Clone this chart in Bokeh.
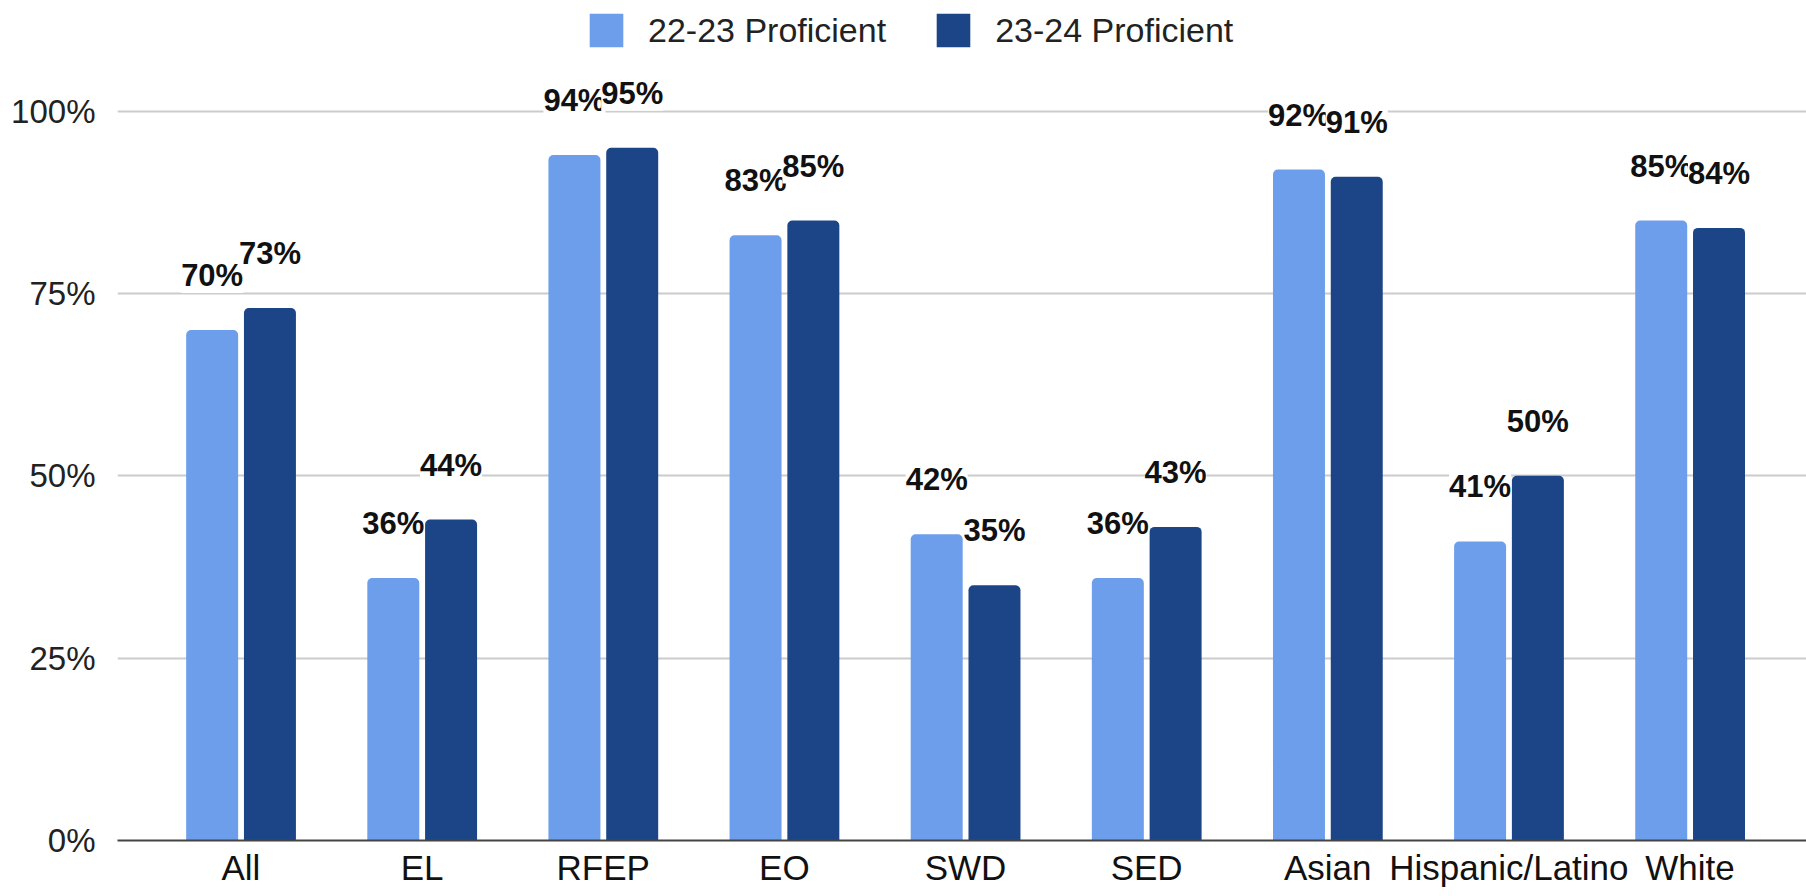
from bokeh.plotting import figure
from bokeh.models import (ColumnDataSource, Range1d, FixedTicker, LabelSet, Legend,
                          LegendItem, PrintfTickFormatter)
from bokeh.core.properties import value
from bokeh.transform import dodge
from bokeh.embed import file_html
from bokeh.resources import INLINE

categories = ["All", "EL", "RFEP", "EO", "SWD", "SED", "Asian", "Hispanic/Latino", "White"]
series_names = ["22-23 Proficient", "23-24 Proficient"]
prof_2223 = [70, 36, 94, 83, 42, 36, 92, 41, 85]
prof_2324 = [73, 44, 95, 85, 35, 43, 91, 50, 84]
y_ticks = [0, 25, 50, 75, 100]

LIGHT = "#6d9eeb"
DARK = "#1c4587"

idx = list(range(len(categories)))
src = ColumnDataSource(dict(
    x=idx,
    cat=categories,
    a=prof_2223,
    b=prof_2324,
    a_lab=[f"{v}%" for v in prof_2223],
    b_lab=[f"{v}%" for v in prof_2324],
))

p = figure(width=1806, height=896,
           x_range=Range1d(-0.6816, 8.643), y_range=Range1d(0, 115.18),
           output_backend="svg", toolbar_location=None,
           min_border_left=117, min_border_right=0,
           min_border_top=0, min_border_bottom=56)
p.outline_line_color = None
p.background_fill_color = "white"
p.border_fill_color = "white"

ra = p.vbar(x=dodge("x", -0.159), top="a", width=0.287, source=src,
            fill_color=LIGHT, line_color=None, border_radius=(5, 5, 0, 0))
rb = p.vbar(x=dodge("x", 0.16), top="b", width=0.287, source=src,
            fill_color=DARK, line_color=None, border_radius=(5, 5, 0, 0))

for col, lab, off in (("a", "a_lab", -0.159), ("b", "b_lab", 0.16)):
    ls = LabelSet(x=dodge("x", off), y=col, text=lab, source=src,
                  text_align="center", text_baseline="alphabetic", y_offset=44,
                  text_font=value("Liberation Sans"), text_font_style="bold",
                  text_font_size="31px", text_color="#111111",
                  background_fill_color="white")
    p.add_layout(ls)

# axes
p.xaxis.ticker = FixedTicker(ticks=idx)
p.xaxis.major_label_overrides = {i: c for i, c in zip(idx, categories)}
p.xaxis.major_label_text_font = "Liberation Sans"
p.xaxis.major_label_text_font_size = "35px"
p.xaxis.major_label_text_color = "#111111"
p.xaxis.major_label_standoff = 7
p.xaxis.major_tick_line_color = None
p.xaxis.major_tick_out = 0
p.xaxis.minor_tick_line_color = None
p.xaxis.axis_line_color = "#444444"
p.xaxis.axis_line_width = 2

p.yaxis.ticker = FixedTicker(ticks=y_ticks)
p.yaxis.formatter = PrintfTickFormatter(format="%d%%")
p.yaxis.major_label_text_font = "Liberation Sans"
p.yaxis.major_label_text_font_size = "33px"
p.yaxis.major_label_text_color = "#222222"
p.yaxis.major_label_standoff = 16
p.yaxis.axis_line_color = None
p.yaxis.major_tick_line_color = None
p.yaxis.minor_tick_line_color = None

p.xgrid.grid_line_color = None
p.ygrid.ticker = FixedTicker(ticks=y_ticks)
p.ygrid.grid_line_color = "#cccccc"
p.ygrid.grid_line_width = 2

legend = Legend(items=[LegendItem(label=series_names[0], renderers=[ra]),
                       LegendItem(label=series_names[1], renderers=[rb])],
                orientation="horizontal", location=(468, 789),
                glyph_width=42, glyph_height=42, label_standoff=21, spacing=46,
                padding=0, margin=0, border_line_color=None,
                background_fill_alpha=0,
                label_text_font="Liberation Sans", label_text_font_size="34px",
                label_text_color="#222222")
p.add_layout(legend)

open("out.html", "w").write(file_html(p, INLINE))
